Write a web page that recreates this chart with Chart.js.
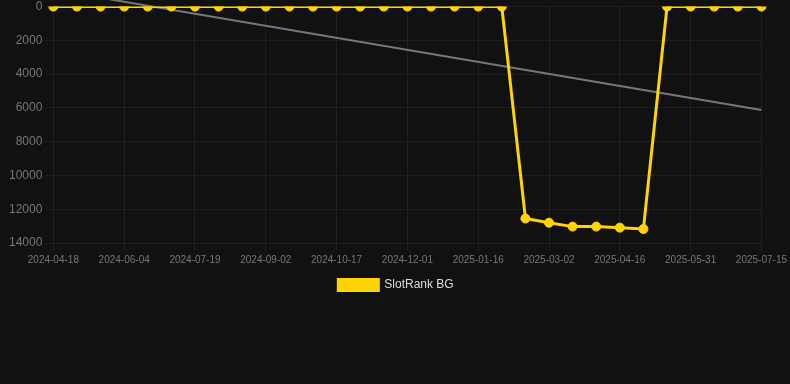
<!DOCTYPE html>
<html>
<head>
<meta charset="utf-8">
<script src="https://cdn.jsdelivr.net/npm/chart.js@4.4.1/dist/chart.umd.min.js"></script>
<style>
  html, body { margin: 0; padding: 0; background: #111111; }
  #wrap { position: relative; width: 790px; height: 301px; }
</style>
</head>
<body>
<div id="wrap"><canvas id="rankChart"></canvas></div>
<script>
// dates of each sample (every 3rd one is shown on the axis)
const labels = [
  '2024-04-18', '2024-05-03', '2024-05-19', '2024-06-04', '2024-06-19',
  '2024-07-04', '2024-07-19', '2024-08-03', '2024-08-18', '2024-09-02',
  '2024-09-17', '2024-10-02', '2024-10-17', '2024-11-01', '2024-11-16',
  '2024-12-01', '2024-12-16', '2024-12-31', '2025-01-16', '2025-01-31',
  '2025-02-15', '2025-03-02', '2025-03-17', '2025-04-01', '2025-04-16',
  '2025-05-01', '2025-05-16', '2025-05-31', '2025-06-15', '2025-06-30',
  '2025-07-15'
];

// rank values
const rankValues = [
  0, 0, 0, 0, 0, 0, 0, 0, 0, 0,
  0, 0, 0, 0, 0, 0, 0, 0, 0, 0,
  12550, 12800, 13030, 13030, 13090, 13170,
  0, 0, 0, 0, 0
];

// trend line ends (first and last date)
const trendValues = [-1000, 6130];

const yTicks = [0, 2000, 4000, 6000, 8000, 10000, 12000, 14000];

const gold = '#FFD400';
const gridColor = 'rgba(255,255,255,0.055)';
const fontFamily = 'Arial, "Liberation Sans", sans-serif';

const ctx = document.getElementById('rankChart').getContext('2d');

new Chart(ctx, {
  type: 'line',
  data: {
    labels: labels,
    datasets: [
      {
        label: 'SlotRank BG',
        data: rankValues,
        borderColor: gold,
        backgroundColor: gold,
        borderWidth: 3,
        pointRadius: 4.5,
        pointBorderWidth: 1,
        pointBackgroundColor: gold,
        pointBorderColor: gold,
        tension: 0,
        fill: false,
      },
      {
        label: 'Trend',
        data: [
          { x: labels[0], y: trendValues[0] },
          { x: labels[labels.length - 1], y: trendValues[1] },
        ],
        borderColor: '#777777',
        borderWidth: 2,
        pointRadius: 0,
        fill: false,
        clip: false,
      },
    ],
  },
  options: {
    responsive: true,
    maintainAspectRatio: false,
    animation: false,
    layout: { padding: { left: 6, right: 4, top: 0 } },
    plugins: {
      legend: {
        position: 'bottom',
        labels: {
          color: '#dddddd',
          font: { family: fontFamily, size: 12 },
          boxWidth: 40,
          boxHeight: 11,
          filter: (item) => item.text !== 'Trend',
        },
      },
      tooltip: { enabled: false },
    },
    scales: {
      x: {
        type: 'category',
        offset: false,
        grid: {
          color: (c) => (c.index % 3 === 0 ? gridColor : 'transparent'),
          drawTicks: true,
          tickLength: 8,
        },
        border: { display: false },
        ticks: {
          autoSkip: false,
          maxRotation: 0,
          color: '#777777',
          font: { family: fontFamily, size: 10 },
          callback: function (value, index) {
            return index % 3 === 0 ? this.getLabelForValue(value) : '';
          },
        },
      },
      y: {
        reverse: true,
        min: 0,
        max: 14000,
        afterBuildTicks: (axis) => {
          axis.ticks = yTicks.map((v) => ({ value: v }));
        },
        grid: { color: gridColor, tickLength: 8 },
        border: { display: false },
        ticks: {
          color: '#777777',
          font: { family: fontFamily, size: 12, lineHeight: 0.6 },
          callback: (value) => String(value),
        },
      },
    },
  },
});
</script>
</body>
</html>
